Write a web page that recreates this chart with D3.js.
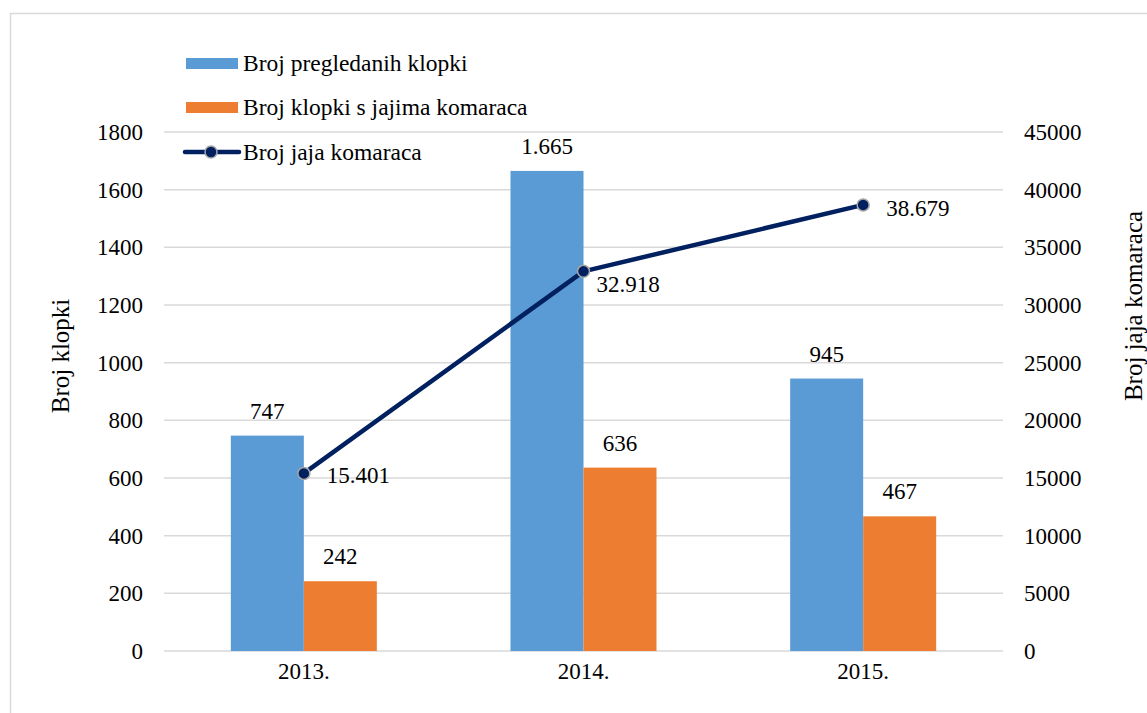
<!DOCTYPE html>
<html><head><meta charset="utf-8">
<script src="https://cdn.jsdelivr.net/npm/d3@7"></script>
<style>body{margin:0;background:#fff;} svg text{font-family:"Liberation Serif","Times New Roman","DejaVu Serif",serif !important;}</style>
</head><body>
<svg id="c" width="1147" height="713"></svg>
<script>
const categories = ["2013.", "2014.", "2015."];
const trapsInspected = [747, 1665, 945];
const trapsWithEggs = [242, 636, 467];
const mosquitoEggs = [15401, 32918, 38679];
const leftTicks = [0, 200, 400, 600, 800, 1000, 1200, 1400, 1600, 1800];
const rightTicks = [0, 5000, 10000, 15000, 20000, 25000, 30000, 35000, 40000, 45000];
const seriesNames = ["Broj pregledanih klopki", "Broj klopki s jajima komaraca", "Broj jaja komaraca"];
const fmt = v => v >= 1000 ? d3.format(",")(v).replace(/,/g, ".") : String(v);

const svg = d3.select("#c");
const fs = 23;
const m = {l: 164, r: 1003, t: 132, b: 651};
svg.append("rect").attr("x", 10.5).attr("y", 13.5).attr("width", 1160).attr("height", 720)
  .attr("fill", "#fff").attr("stroke", "#d9d9d9").attr("stroke-width", 1.5);

const x0 = d3.scaleBand().domain(categories).range([m.l, m.r]).paddingInner(0).paddingOuter(0);
const yL = d3.scaleLinear().domain([0, 1800]).range([m.b, m.t]);
const yR = d3.scaleLinear().domain([0, 45000]).range([m.b, m.t]);

// gridlines
svg.append("g").selectAll("line").data(leftTicks).join("line")
  .attr("x1", m.l).attr("x2", m.r).attr("y1", d => yL(d)).attr("y2", d => yL(d))
  .attr("stroke", "#d9d9d9").attr("stroke-width", 1.5);

// axes
const axL = svg.append("g").attr("transform", `translate(${m.l - 21},0)`)
  .call(d3.axisLeft(yL).tickValues(leftTicks).tickFormat(d3.format("d")).tickSize(0).tickPadding(0));
const axR = svg.append("g").attr("transform", `translate(${m.r + 21},0)`)
  .call(d3.axisRight(yR).tickValues(rightTicks).tickFormat(d3.format("d")).tickSize(0).tickPadding(0));
const axB = svg.append("g").attr("transform", `translate(0,${m.b + 12})`)
  .call(d3.axisBottom(x0).tickSize(0).tickPadding(0));
[axL, axR, axB].forEach(a => {
  a.attr("font-family", null).attr("font-size", null);
  a.select(".domain").remove();
  a.selectAll("text").attr("font-size", fs).attr("fill", "#000");
});
axB.selectAll("text").attr("dy", "0.71em");

// bars
const bw = 73;
const cx = c => x0(c) + x0.bandwidth() / 2;
const bars = svg.append("g");
bars.selectAll(".b1").data(categories).join("rect")
  .attr("x", c => cx(c) - bw).attr("width", bw)
  .attr("y", (c, i) => yL(trapsInspected[i])).attr("height", (c, i) => m.b - yL(trapsInspected[i]))
  .attr("fill", "#5b9bd5");
bars.selectAll(".b2").data(categories).join("rect")
  .attr("x", c => cx(c)).attr("width", bw)
  .attr("y", (c, i) => yL(trapsWithEggs[i])).attr("height", (c, i) => m.b - yL(trapsWithEggs[i]))
  .attr("fill", "#ed7d31");

// bar labels
const lbl = svg.append("g").attr("font-size", fs).attr("fill", "#000").attr("text-anchor", "middle");
lbl.selectAll(".l1").data(categories).join("text")
  .attr("x", c => cx(c) - bw / 2).attr("y", (c, i) => yL(trapsInspected[i]) - 17)
  .text((c, i) => fmt(trapsInspected[i]));
lbl.selectAll(".l2").data(categories).join("text")
  .attr("x", c => cx(c) + bw / 2).attr("y", (c, i) => yL(trapsWithEggs[i]) - 17)
  .text((c, i) => fmt(trapsWithEggs[i]));

// line
const line = d3.line().x((d, i) => cx(categories[i])).y(d => yR(d));
svg.append("path").datum(mosquitoEggs).attr("d", line)
  .attr("fill", "none").attr("stroke", "#002060").attr("stroke-width", 4.5).attr("stroke-linejoin", "round");
svg.append("g").selectAll("circle").data(mosquitoEggs).join("circle")
  .attr("cx", (d, i) => cx(categories[i])).attr("cy", d => yR(d)).attr("r", 6)
  .attr("fill", "#002060").attr("stroke", "#a6a6a6").attr("stroke-width", 1.5);
const lineLabelDx = [23, 13, 23];
const lineLabelDy = [10, 21, 11];
svg.append("g").attr("font-size", fs).attr("fill", "#000").selectAll("text").data(mosquitoEggs).join("text")
  .attr("x", (d, i) => cx(categories[i]) + lineLabelDx[i]).attr("y", (d, i) => yR(d) + lineLabelDy[i])
  .text(d => fmt(d));

// axis titles
svg.append("text").attr("transform", "translate(69,356) rotate(-90)").attr("text-anchor", "middle")
  .attr("font-size", 25).text("Broj klopki");
svg.append("text").attr("transform", "translate(1142,306) rotate(-90)").attr("text-anchor", "middle")
  .attr("font-size", 25).text("Broj jaja komaraca");

// legend
const lg = svg.append("g").attr("font-size", 23.5);
lg.append("rect").attr("x", 186).attr("y", 58).attr("width", 52).attr("height", 11).attr("fill", "#5b9bd5");
lg.append("text").attr("x", 243).attr("y", 71).text(seriesNames[0]);
lg.append("rect").attr("x", 186).attr("y", 102).attr("width", 52).attr("height", 11).attr("fill", "#ed7d31");
lg.append("text").attr("x", 243).attr("y", 115).text(seriesNames[1]);
lg.append("line").attr("x1", 185).attr("x2", 239).attr("y1", 152).attr("y2", 152)
  .attr("stroke", "#002060").attr("stroke-width", 4.5).attr("stroke-linecap", "round");
lg.append("circle").attr("cx", 211).attr("cy", 152).attr("r", 6)
  .attr("fill", "#002060").attr("stroke", "#a6a6a6").attr("stroke-width", 1.5);
lg.append("text").attr("x", 243).attr("y", 160).text(seriesNames[2]);
</script>
</body></html>
